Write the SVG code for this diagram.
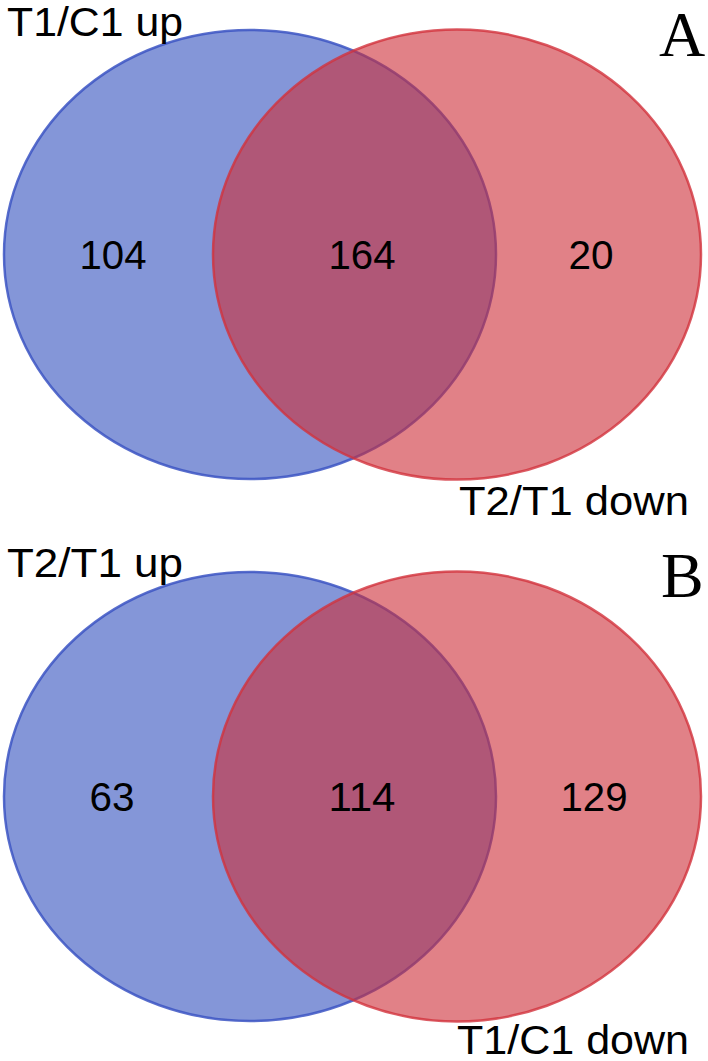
<svg xmlns="http://www.w3.org/2000/svg" width="708" height="1061" viewBox="0 0 708 1061">
<style>
.blue{fill:rgb(50,80,190);fill-opacity:0.6;stroke:rgb(60,85,195);stroke-opacity:0.85;stroke-width:2.5}
.red{fill:rgb(205,45,55);fill-opacity:0.6;stroke:rgb(210,50,60);stroke-opacity:0.8;stroke-width:2.5}
.lbl{font-family:"Liberation Sans",Arial,sans-serif;font-size:40px;fill:#000}
.num{font-family:"Liberation Sans",Arial,sans-serif;font-size:40px;fill:#000;text-anchor:middle}
.pan{font-family:"Liberation Serif","Times New Roman",serif;font-size:64px;fill:#000}
</style>
<rect width="708" height="1061" fill="#fff"/>
<g id="panelA">
<g id="A_setT1C1up"><ellipse class="blue" cx="250" cy="254.5" rx="246" ry="224.5"/></g>
<g id="A_setT2T1down"><ellipse class="red" cx="457" cy="254.5" rx="244" ry="225"/></g>
<text class="lbl" x="7" y="36" textLength="176" lengthAdjust="spacingAndGlyphs">T1/C1 up</text>
<text class="lbl" x="459" y="515" textLength="230" lengthAdjust="spacingAndGlyphs">T2/T1 down</text>
<text class="pan" x="659" y="56">A</text>
<text class="num" x="113" y="269" textLength="67" lengthAdjust="spacingAndGlyphs">104</text>
<text class="num" x="362" y="269" textLength="67" lengthAdjust="spacingAndGlyphs">164</text>
<text class="num" x="591" y="269" textLength="45" lengthAdjust="spacingAndGlyphs">20</text>
</g>
<g id="panelB">
<g id="B_setT2T1up"><ellipse class="blue" cx="250" cy="796.5" rx="246" ry="224.5"/></g>
<g id="B_setT1C1down"><ellipse class="red" cx="457" cy="796.5" rx="244" ry="225"/></g>
<text class="lbl" x="7" y="577" textLength="176" lengthAdjust="spacingAndGlyphs">T2/T1 up</text>
<text class="lbl" x="457" y="1054" textLength="232" lengthAdjust="spacingAndGlyphs">T1/C1 down</text>
<text class="pan" x="661" y="597">B</text>
<text class="num" x="112" y="811" textLength="45" lengthAdjust="spacingAndGlyphs">63</text>
<text class="num" x="362" y="811" textLength="67" lengthAdjust="spacingAndGlyphs">114</text>
<text class="num" x="594" y="811" textLength="67" lengthAdjust="spacingAndGlyphs">129</text>
</g>
<g id="connectors"/>
</svg>
